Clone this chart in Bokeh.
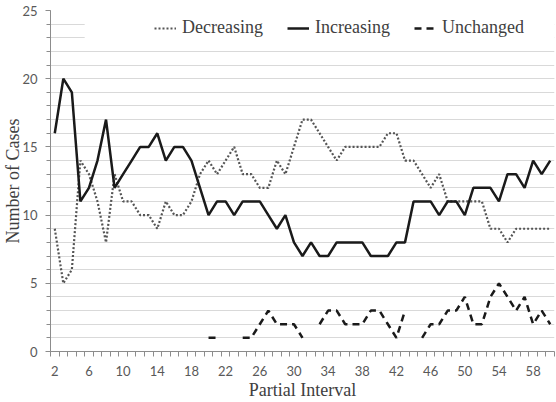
import math
from bokeh.plotting import figure
from bokeh.models import (Range1d, FixedTicker, Legend, LegendItem,
                          BoxAnnotation, ColumnDataSource)
from bokeh.embed import file_html
from bokeh.resources import INLINE

nan = float("nan")

# Partial interval categories 2..60
intervals = list(range(2, 61))

decreasing = [9, 5, 6, 14, 13, 11, 8, 13, 11, 11, 10, 10, 9, 11, 10, 10, 11, 13, 14, 13,
              14, 15, 13, 13, 12, 12, 14, 13, 15, 17, 17, 16, 15, 14, 15, 15, 15, 15, 15, 16,
              16, 14, 14, 13, 12, 13, 11, 11, 11, 11, 11, 9, 9, 8, 9, 9, 9, 9, 9]

increasing = [16, 20, 19, 11, 12, 14, 17, 12, 13, 14, 15, 15, 16, 14, 15, 15, 14, 12, 10, 11,
              11, 10, 11, 11, 11, 10, 9, 10, 8, 7, 8, 7, 7, 8, 8, 8, 8, 7, 7, 7,
              8, 8, 11, 11, 11, 10, 11, 11, 10, 12, 12, 12, 11, 13, 13, 12, 14, 13, 14]

unchanged = [nan] * 18 + [1, 1, nan, nan, 1, 1, 2, 3, 2, 2, 2, 1, nan, 2, 3, 3, 2, 2, 2, 3,
                          3, 2, 1, 3, nan, 1, 2, 2, 3, 3, 4, 2, 2, 4, 5, 4, 3, 4, 2, 3, 2]

series_names = ["Decreasing", "Increasing", "Unchanged"]
x_title = "Partial Interval"
y_title = "Number of Cases"
x_tick_labels = list(range(2, 59, 4))
y_tick_labels = [0, 5, 10, 15, 20, 25]
y_minor = list(range(0, 26))

src = ColumnDataSource(dict(x=intervals, dec=decreasing, inc=increasing, unc=unchanged))

p = figure(width=556, height=402, output_backend="svg", toolbar_location=None,
           x_range=Range1d(1.5, 60.5), y_range=Range1d(0, 25),
           min_border_left=49, min_border_right=2, min_border_top=10, min_border_bottom=50)
p.outline_line_color = None
p.background_fill_color = "white"
p.border_fill_color = "white"

axis_col = "#8c8c8c"
tick_font = "Lato"
title_font = "Liberation Serif"

# x axis
p.xaxis.ticker = FixedTicker(ticks=x_tick_labels,
                             minor_ticks=[k - 0.5 for k in intervals] + [intervals[-1] + 0.5])
p.xaxis.major_tick_out = 0
p.xaxis.major_tick_in = 0
p.xaxis.minor_tick_out = 5
p.xaxis.minor_tick_in = 0
p.xaxis.axis_line_color = axis_col
p.xaxis.minor_tick_line_color = axis_col
p.xaxis.major_label_text_font = tick_font
p.xaxis.major_label_text_font_size = "13px"
p.xaxis.major_label_text_color = "#595959"
p.xaxis.major_label_standoff = 9
p.xaxis.axis_label = x_title
p.xaxis.axis_label_standoff = 1
p.xaxis.axis_label_text_font = title_font
p.xaxis.axis_label_text_font_size = "18px"
p.xaxis.axis_label_text_font_style = "normal"
p.xaxis.axis_label_text_color = "#404040"

# y axis
p.yaxis.ticker = FixedTicker(ticks=y_tick_labels, minor_ticks=y_minor)
p.yaxis.major_tick_out = 5
p.yaxis.major_tick_in = 0
p.yaxis.minor_tick_out = 4
p.yaxis.minor_tick_in = 0
p.yaxis.axis_line_color = axis_col
p.yaxis.major_tick_line_color = axis_col
p.yaxis.minor_tick_line_color = axis_col
p.yaxis.major_label_text_font = tick_font
p.yaxis.major_label_text_font_size = "13px"
p.yaxis.major_label_text_color = "#595959"
p.yaxis.major_label_standoff = 8
p.yaxis.axis_label = y_title
p.yaxis.axis_label_standoff = -4
p.yaxis.axis_label_text_font = title_font
p.yaxis.axis_label_text_font_size = "18px"
p.yaxis.axis_label_text_font_style = "normal"
p.yaxis.axis_label_text_color = "#404040"

p.xgrid.visible = False
p.ygrid.grid_line_color = "#d9d9d9"
p.ygrid.minor_grid_line_color = "#d9d9d9"
p.ygrid.grid_line_width = 1
p.ygrid.minor_grid_line_width = 1

r_dec = p.line("x", "dec", source=src, line_color="#555555", line_width=2.2, line_dash="2 2")
r_inc = p.line("x", "inc", source=src, line_color="#1a1a1a", line_width=2.5)
r_unc = p.line("x", "unc", source=src, line_color="#1a1a1a", line_width=2.5, line_dash="7 5")

# white legend backdrop
box = BoxAnnotation(left=5.5, right=60.5, bottom=22.25, top=24.8,
                    fill_color="white", fill_alpha=1.0, line_color=None)
p.add_layout(box)

legend = Legend(items=[LegendItem(label=series_names[0], renderers=[r_dec]),
                       LegendItem(label=series_names[1], renderers=[r_inc]),
                       LegendItem(label=series_names[2], renderers=[r_unc])],
                orientation="horizontal", location=(104, 313), padding=0, margin=0,
                spacing=24, label_standoff=6, glyph_width=22, glyph_height=20,
                label_height=20, background_fill_alpha=0, border_line_color=None,
                label_text_font=title_font, label_text_font_size="18px",
                label_text_color="#404040")
p.add_layout(legend)

open("out.html", "w").write(file_html(p, INLINE))
